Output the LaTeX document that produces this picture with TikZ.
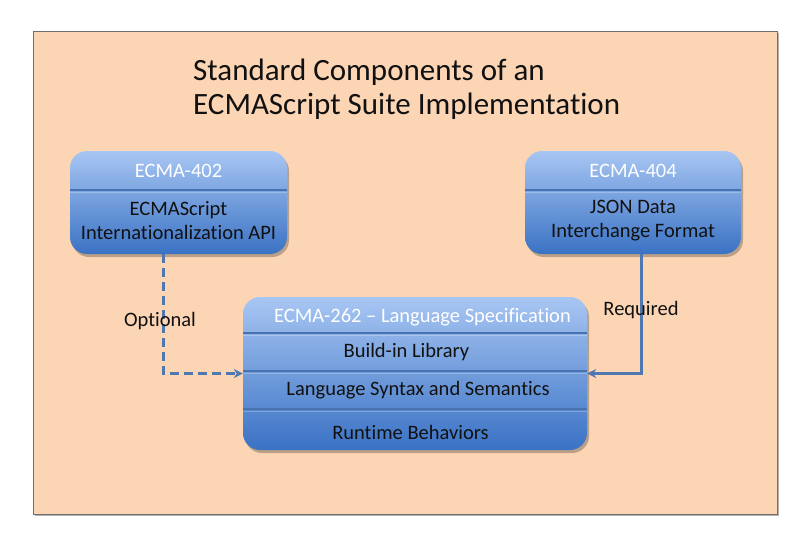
\documentclass[tikz,border=0pt]{standalone}
\usepackage{fontspec}
\setmainfont{Carlito}[Ligatures={NoCommon,NoRare,NoContextual},Contextuals={NoAlternate}]
\usetikzlibrary{arrows.meta,shadows}
\definecolor{peach}{HTML}{FCD5B5}
\definecolor{framegray}{HTML}{6F6F6F}
\definecolor{boxtop}{HTML}{A8C6F3}
\definecolor{boxbot}{HTML}{3A72C4}
\definecolor{rulecol}{HTML}{4872B0}
\definecolor{linkcol}{HTML}{5078B0}
\definecolor{inkcol}{HTML}{111111}
\begin{document}
\begin{tikzpicture}[x=1pt,y=-1pt,
  specbox/.style={draw=none, rounded corners=17pt, top color=boxtop, bottom color=boxbot,
    inner sep=0pt,
    drop shadow={shadow xshift=2pt, shadow yshift=-3pt, opacity=0.25, fill=black}},
  divider/.style={line width=2.4pt, draw=rulecol},
  divlight/.style={line width=1pt, draw=white, draw opacity=0.25},
  headtxt/.style={font=\fontsize{20.5}{24}\selectfont, text=white, inner sep=0pt},
  bodytxt/.style={font=\fontsize{20.5}{24}\selectfont, text=inkcol, inner sep=0pt, align=center},
  labeltxt/.style={font=\fontsize{20.5}{24}\selectfont, text=inkcol, inner sep=0pt},
  titletxt/.style={font=\fontsize{31}{36}\selectfont, text=inkcol, inner sep=0pt, anchor=base west},
  link/.style={line width=3pt, draw=linkcol, -{Stealth[length=9pt,width=9pt]}},
]
\useasboundingbox (0,0) rectangle (807,550);

% page background panel
\node[draw=framegray, line width=1pt, fill=peach, inner sep=0pt,
      minimum width=744pt, minimum height=483pt,
      drop shadow={shadow xshift=2pt, shadow yshift=-2pt, opacity=0.3, fill=black}]
  (panel) at (405,272.5) {};

% title
\node[titletxt] (title1) at (193,80) {Standard Components of an};
\node[titletxt] (title2) at (193,114) {ECMAScript Suite Implementation};

% ECMA-402 box
\node[specbox, minimum width=217pt, minimum height=103pt] (b402) at (178.5,202.5) {};
\draw[divider] (b402.west |- 0,190) -- (b402.east |- 0,190);
\draw[divlight] (b402.west |- 0,192) -- (b402.east |- 0,192);
\node[headtxt] (h402) at (178.5,171) {ECMA-402};
\node[bodytxt] (t402) at (178.5,221) {ECMAScript\\Internationalization API};

% ECMA-404 box
\node[specbox, minimum width=216pt, minimum height=103pt] (b404) at (633,202.5) {};
\draw[divider] (b404.west |- 0,190) -- (b404.east |- 0,190);
\draw[divlight] (b404.west |- 0,192) -- (b404.east |- 0,192);
\node[headtxt] (h404) at (633,171) {ECMA-404};
\node[bodytxt] (t404) at (633,221) {JSON Data\\Interchange Format};

% ECMA-262 box
\node[specbox, minimum width=344pt, minimum height=153pt] (b262) at (415,373.5) {};
\draw[divider] (b262.west |- 0,333) -- (b262.east |- 0,333);
\draw[divlight] (b262.west |- 0,335) -- (b262.east |- 0,335);
\draw[divider] (b262.west |- 0,371) -- (b262.east |- 0,371);
\draw[divlight] (b262.west |- 0,373) -- (b262.east |- 0,373);
\draw[divider] (b262.west |- 0,409) -- (b262.east |- 0,409);
\draw[divlight] (b262.west |- 0,411) -- (b262.east |- 0,411);
\node[headtxt] (h262) at (422.5,317) {ECMA-262 – Language Specification};
\node[bodytxt] (r1) at (406.5,352) {Build-in Library};
\node[bodytxt] (r2) at (418,390) {Language Syntax and Semantics};
\node[bodytxt] (r3) at (410.5,432) {Runtime Behaviors};

% connectors
\draw[link, dashed, dash pattern=on 9pt off 5pt]
  ([xshift=-15.5pt]b402.south) |- (b262.west);
\draw[link] ([xshift=8pt]b404.south) |- (b262.east);

% connector labels
\node[labeltxt] (lopt) at (160,321) {Optional};
\node[labeltxt] (lreq) at (641,310) {Required};
\end{tikzpicture}
\end{document}
